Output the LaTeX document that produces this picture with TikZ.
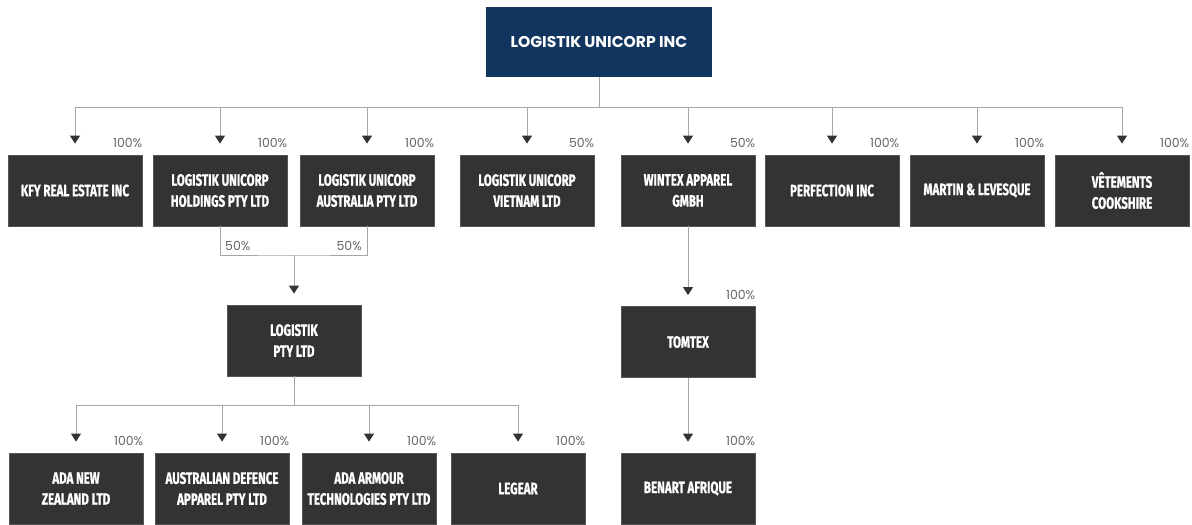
\documentclass[tikz,border=0pt]{standalone}
\usepackage{fontspec}
\newfontfamily\boxfont[FakeStretch=0.7,BoldFeatures={FakeBold=0.8}]{Fira Sans}
\newfontfamily\pctfont{Poppins}
\newfontfamily\titlefont{Poppins}
\usetikzlibrary{arrows.meta}
\definecolor{navy}{HTML}{12355F}
\definecolor{boxgray}{HTML}{333333}
\definecolor{boxedge}{HTML}{555555}
\definecolor{linegray}{HTML}{A6A6A6}
\definecolor{pctgray}{HTML}{666666}
\begin{document}
\begin{tikzpicture}[x=1pt,y=-1pt,
  ent/.style={draw=boxedge, line width=0.8pt, fill=boxgray, minimum width=134pt, minimum height=71pt,
    inner sep=0pt, text=white, align=center, font=\boxfont\bfseries\fontsize{16.5}{21}\selectfont},
  titlebox/.style={fill=navy, minimum width=226pt, minimum height=70pt, inner sep=0pt, text=white,
    font=\titlefont\bfseries\fontsize{15.6}{18}\selectfont},
  pct/.style={text=pctgray, inner sep=0pt, font=\pctfont\fontsize{12.5}{14}\selectfont},
  ln/.style={draw=linegray, line width=1pt},
  arr/.style={ln, -{Triangle[width=10pt,length=8pt,color=boxgray]}, shorten >=11pt}
]
\useasboundingbox (0,0) rectangle (1192,525);

% top
\node[titlebox] (top) at (599,42) {LOGISTIK UNICORP INC};

% row 1
\node[ent] (kfy)  at (75,190.5)   {KFY REAL ESTATE INC};
\node[ent] (hold) at (220,190.5)  {LOGISTIK UNICORP\\HOLDINGS PTY LTD};
\node[ent] (aus)  at (367,190.5)  {LOGISTIK UNICORP\\AUSTRALIA PTY LTD};
\node[ent] (viet) at (527,190.5)  {LOGISTIK UNICORP\\VIETNAM LTD};
\node[ent] (wint) at (688,190.5)  {WINTEX APPAREL\\GMBH};
\node[ent] (perf) at (832,190.5)  {PERFECTION INC};
\node[ent] (mart) at (977,190.5)  {MARTIN \& LEVESQUE};
\node[ent] (vet)  at (1122,190.5) {VÊTEMENTS\\COOKSHIRE};

% row 2
\node[ent] (pty)    at (294,340.5) {LOGISTIK\\PTY LTD};
\node[ent] (tomtex) at (688,342)   {TOMTEX};

% row 3
\node[ent] (adanz)  at (76,488.5)  {ADA NEW\\ZEALAND LTD};
\node[ent] (adap)   at (222,488.5) {AUSTRALIAN DEFENCE\\APPAREL PTY LTD};
\node[ent] (adaa)   at (369,488.5) {ADA ARMOUR\\TECHNOLOGIES PTY LTD};
\node[ent] (legear) at (518,488.5) {LEGEAR};
\node[ent] (benart) at (688,488.5) {BENART AFRIQUE};

% percentages
\foreach \n/\p in {kfy/100,hold/100,aus/100,viet/50,wint/50,perf/100,mart/100,vet/100,
                   tomtex/100,adanz/100,adap/100,adaa/100,legear/100,benart/100}
  \node[pct, anchor=base east] (p\n) at ([yshift=7pt]\n.north east) {\p\%};

% connectors: top level
\coordinate (bus) at (599,107);
\draw[ln] (top.south) -- (bus);
\draw[ln] (kfy.north |- bus) -- (vet.north |- bus);
\foreach \n in {kfy,hold,aus,viet,wint,perf,mart,vet}
  \draw[arr] (\n.north |- bus) -- (\n.north);

% joint ownership
\coordinate (join) at (294,255);
\draw[ln] (hold.south) |- (join) -| (aus.south);
\draw[arr] (join) -- (pty.north);
\node[pct, anchor=base west] (j1) at (225,250) {50\%};
\node[pct, anchor=base east] (j2) at (362,250) {50\%};

% Logistik PTY children
\coordinate (bus2) at (294,405);
\draw[ln] (pty.south) -- (bus2);
\draw[ln] (adanz.north |- bus2) -- (legear.north |- bus2);
\foreach \n in {adanz,adap,adaa,legear}
  \draw[arr] (\n.north |- bus2) -- (\n.north);

% Wintex chain
\draw[arr] (wint.south) -- (tomtex.north);
\draw[arr] (tomtex.south) -- (benart.north);
\end{tikzpicture}
\end{document}
